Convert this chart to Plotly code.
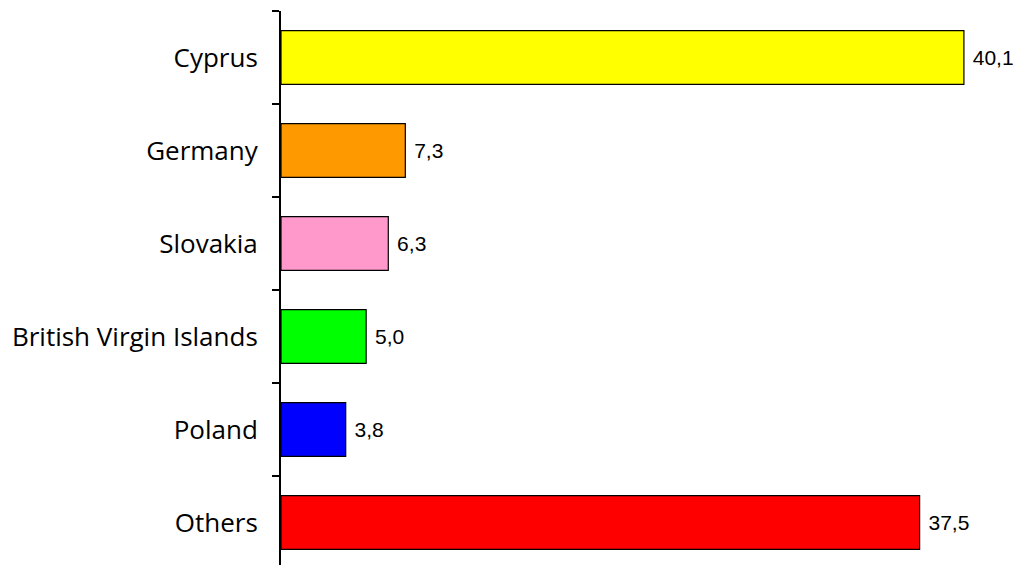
import plotly.graph_objects as go

categories = ["Cyprus", "Germany", "Slovakia", "British Virgin Islands", "Poland", "Others"]
values = [40.1, 7.3, 6.3, 5.0, 3.8, 37.5]
colors = ["#FFFF00", "#FF9900", "#FF99CC", "#00FF00", "#0000FF", "#FF0000"]

fig = go.Figure(go.Bar(
    y=categories, x=values, orientation="h",
    marker=dict(color=colors, line=dict(color="black", width=1.2)),
    texttemplate=" %{x:.1f}", textposition="outside", cliponaxis=False,
    textfont=dict(family="Liberation Sans, Arial", size=21, color="black"),
    width=0.58,
))

fig.update_layout(
    width=1015, height=557,
    margin=dict(l=273, r=0, t=3, b=0, autoexpand=False),
    paper_bgcolor="white", plot_bgcolor="white",
    separators=",.",
    showlegend=False,
    xaxis=dict(range=[0, 43.57], visible=False, automargin=False),
    yaxis=dict(
        range=[5.457, -0.5], type="category", automargin=False,
        showline=True, linecolor="black", linewidth=2,
        ticks="outside", ticklen=7, tickcolor="black", tickwidth=1.5,
        tickson="boundaries", ticklabelstandoff=16,
        tickfont=dict(family="Open Sans", size=26, color="black"),
        showgrid=False, zeroline=False,
    ),
)

fig.write_html("out.html")
